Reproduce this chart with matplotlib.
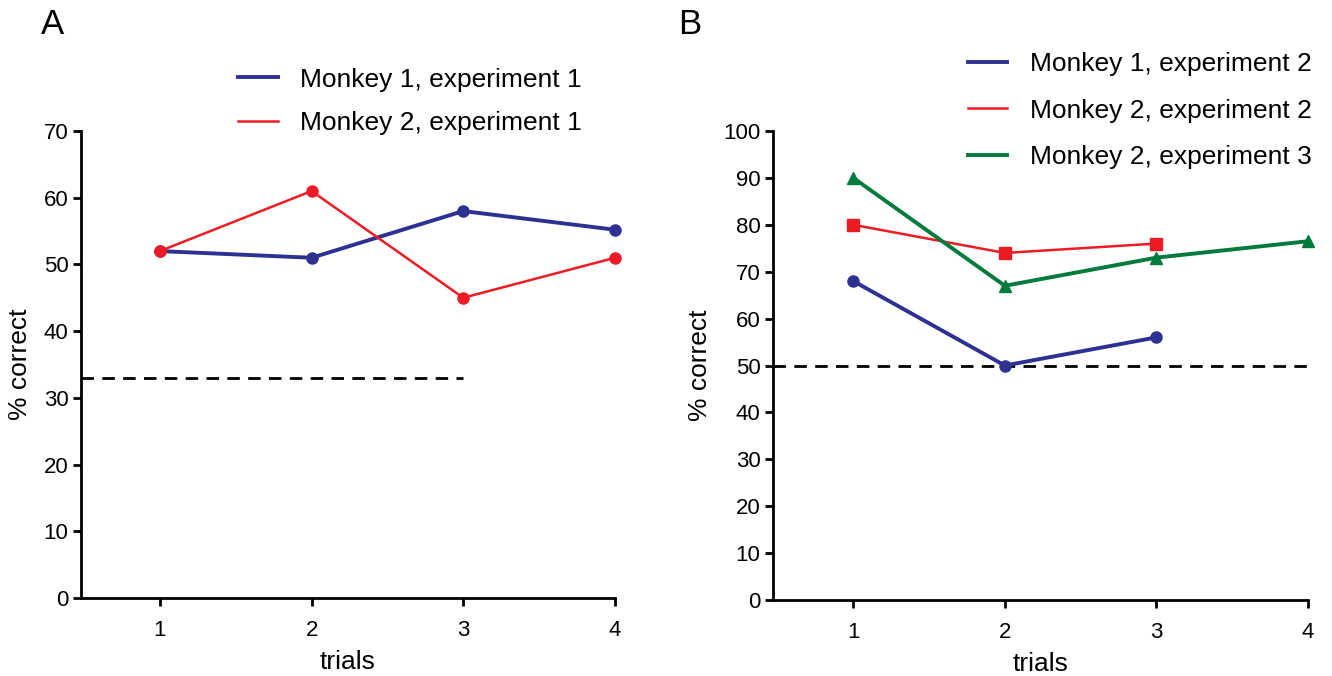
import matplotlib.pyplot as plt
from matplotlib.lines import Line2D

plt.rcParams['font.family'] = ['Liberation Sans', 'DejaVu Sans']

# Panel A data
trials_a = [1, 2, 3, 4]
m1_exp1 = [52, 51, 58, 55.2]
m2_exp1 = [52, 61, 45, 51]
chance_a = 33
chance_a_end = 3

# Panel B data
trials_b3 = [1, 2, 3]
trials_b4 = [1, 2, 3, 4]
m1_exp2 = [68, 50, 56]
m2_exp2 = [80, 74, 76]
m2_exp3 = [90, 67, 73, 76.5]
chance_b = 50
chance_b_end = 4

BLUE = "#2e3192"
RED = "#ed1c24"
GREEN = "#007a3d"

fig = plt.figure(figsize=(13.32, 6.76), dpi=100)
axA = fig.add_axes([0.0608, 0.1154, 0.4009, 0.6908])
axB = fig.add_axes([0.5803, 0.1124, 0.4017, 0.6938])


def style_axis(ax, ymax, xleft):
    ax.set_xlim(xleft, 4)
    ax.set_ylim(0, ymax)
    ax.set_xticks([1, 2, 3, 4])
    ax.set_yticks(range(0, ymax + 1, 10))
    for s in ["top", "right"]:
        ax.spines[s].set_visible(False)
    for s in ["left", "bottom"]:
        ax.spines[s].set_linewidth(2)
    ax.tick_params(axis="both", direction="out", length=6, width=2,
                   labelsize=16, pad=3)
    ax.tick_params(axis="x", pad=10)
    ax.set_xlabel("trials", fontsize=19, labelpad=6)
    ax.set_ylabel("% correct", fontsize=19, labelpad=8)


# Panel A
style_axis(axA, 70, 0.48)
axA.plot(trials_a, m1_exp1, color=BLUE, lw=2.8, marker="o", ms=8, clip_on=False)
axA.plot(trials_a, m2_exp1, color=RED, lw=1.8, marker="o", ms=8, clip_on=False)
axA.hlines(chance_a, 0.48, chance_a_end, colors="black", lw=2,
           linestyles=(0, (4.5, 3)))
hA = [Line2D([], [], color=BLUE, lw=2.8), Line2D([], [], color=RED, lw=1.8)]
fig.legend(hA, ["Monkey 1, experiment 1", "Monkey 2, experiment 1"],
           loc="upper left", bbox_to_anchor=(0.1608, 0.935), frameon=False,
           fontsize=19, handlelength=1.5, handletextpad=0.85, labelspacing=0.75)
fig.text(0.031, 0.988, "A", fontsize=25, va="top")

# Panel B
style_axis(axB, 100, 0.47)
axB.hlines(chance_b, 0.47, chance_b_end, colors="black", lw=2,
           linestyles=(0, (4.5, 3)))
axB.plot(trials_b3, m1_exp2, color=BLUE, lw=2.8, marker="o", ms=8, clip_on=False)
axB.plot(trials_b3, m2_exp2, color=RED, lw=1.8, marker="s", ms=8, clip_on=False)
axB.plot(trials_b4, m2_exp3, color=GREEN, lw=2.8, marker="^", ms=9, clip_on=False)
hB = [Line2D([], [], color=BLUE, lw=2.8), Line2D([], [], color=RED, lw=1.8),
      Line2D([], [], color=GREEN, lw=2.8)]
fig.legend(hB, ["Monkey 1, experiment 2", "Monkey 2, experiment 2",
                "Monkey 2, experiment 3"],
           loc="upper left", bbox_to_anchor=(0.7088, 0.958), frameon=False,
           fontsize=19, handlelength=1.5, handletextpad=0.85, labelspacing=0.85)
fig.text(0.509, 0.988, "B", fontsize=25, va="top")

fig.savefig("out.png", dpi=100)
